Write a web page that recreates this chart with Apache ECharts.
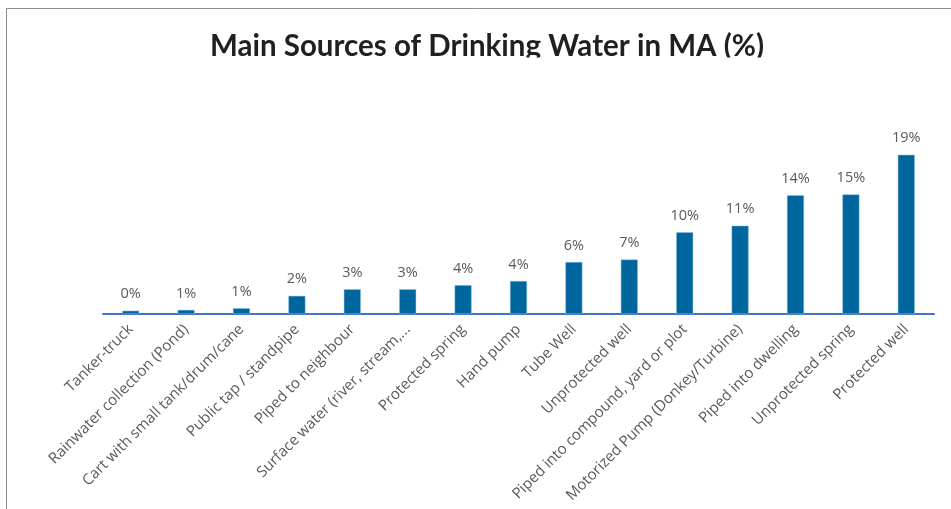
<!DOCTYPE html>
<html lang="en">
<head>
    <meta charset="UTF-8">
    <title>Main Sources of Drinking Water in MA</title>
    <script src="https://cdn.jsdelivr.net/npm/echarts@6/dist/echarts.min.js"></script>
    <style>
        html, body { margin: 0; padding: 0; background: #fff; }
        #chart { width: 951px; height: 509px; }
    </style>
</head>
<body>
<div id="chart"></div>
<script>
// water sources, sorted ascending as in the report
const sources = [
    'Tanker-truck',
    'Rainwater collection (Pond)',
    'Cart with small tank/drum/cane',
    'Public tap / standpipe',
    'Piped to neighbour',
    'Surface water (river, stream,...',
    'Protected spring',
    'Hand pump',
    'Tube Well',
    'Unprotected well',
    'Piped into compound, yard or plot',
    'Motorized Pump (Donkey/Turbine)',
    'Piped into dwelling',
    'Unprotected spring',
    'Protected well'
];
// share of households (%)
const shares = [0.4, 0.5, 0.7, 2.2, 3.0, 3.0, 3.5, 4.0, 6.3, 6.6, 9.9, 10.7, 14.4, 14.5, 19.3];

const chart = echarts.init(document.getElementById('chart'));

const option = {
    animation: false,
    title: {
        text: 'Main Sources of Drinking Water in MA (%)',
        left: 205,
        top: 26,
        textStyle: { fontFamily: 'Lato', fontWeight: 'bold', fontSize: 29.5, color: '#231f20' }
    },
    graphic: [
        // the title box in the source cuts off the descenders
        { type: 'rect', z: 100, shape: { x: 100, y: 57.5, width: 750, height: 14 }, style: { fill: '#fff' } },
        // frame lines on top and left
        { type: 'line', shape: { x1: 6.5, y1: 8.5, x2: 951, y2: 8.5 }, style: { stroke: '#8c8c8c', lineWidth: 1 } },
        { type: 'line', shape: { x1: 6.5, y1: 8.5, x2: 6.5, y2: 509 }, style: { stroke: '#8c8c8c', lineWidth: 1 } }
    ],
    grid: { left: 103, right: 17, top: 149, bottom: 195 },
    xAxis: {
        type: 'category',
        data: sources,
        axisLine: { lineStyle: { color: '#4472c4', width: 2 } },
        axisTick: { show: false },
        axisLabel: {
            interval: 0,
            rotate: 45,
            margin: 13,
            fontFamily: 'Open Sans',
            fontSize: 15,
            color: '#595959'
        }
    },
    yAxis: {
        type: 'value',
        min: 0,
        max: 20,
        show: false
    },
    series: [{
        type: 'bar',
        data: shares,
        barWidth: 17,
        itemStyle: { color: '#00669e', borderColor: '#8fc3e0', borderWidth: 0.5 },
        label: {
            show: true,
            position: 'top',
            distance: 9,
            fontFamily: 'Open Sans',
            fontSize: 14.5,
            color: '#595959',
            formatter: p => Math.round(p.value) + '%'
        }
    }]
};

chart.setOption(option);
</script>
</body>
</html>
